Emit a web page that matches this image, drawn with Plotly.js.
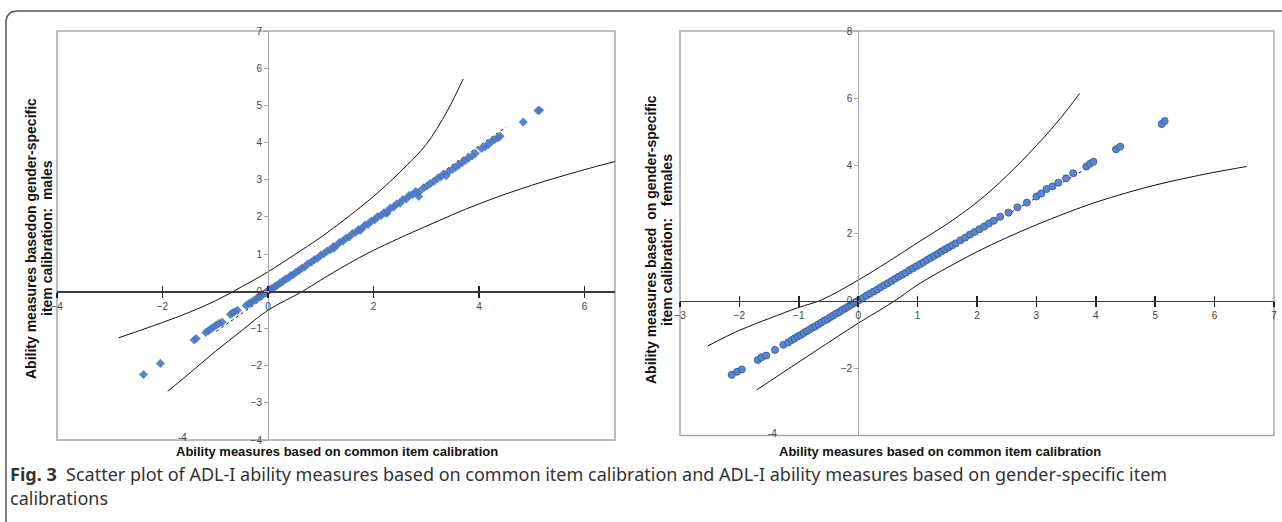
<!DOCTYPE html>
<html>
<head>
<meta charset="utf-8">
<script src="https://cdn.plot.ly/plotly-3.0.1.min.js"></script>
<style>html,body{margin:0;padding:0;background:#fff;}#chart{width:1282px;height:522px;}</style>
</head>
<body>
<div id="chart"></div>
<script>
// ---------- DATA ----------
// Left panel: males
const malesX = [-2.36,-2.04,-1.40,-1.36,-1.18,-1.13,-1.08,-1.03,-0.98,-0.93,-0.87,-0.71,-0.67,-0.63,-0.58,-0.41,-0.36,-0.31,-0.26,-0.21,-0.17,-0.13,-0.09,-0.05,-0.02,
  0.02,0.06,0.10,0.14,0.18,0.23,0.28,0.33,0.38,0.43,0.48,0.53,0.58,0.64,0.70,0.76,0.82,0.88,0.94,1.00,1.06,1.12,1.18,1.24,1.30,1.36,1.42,1.48,1.54,1.60,1.66,1.72,1.78,1.84,1.90,1.96,2.02,2.08,2.14,2.20,2.26,2.32,2.38,2.44,2.50,2.56,2.62,2.68,2.74,2.80,2.86,
  1.25,1.75,2.25,2.86,
  2.95,3.02,3.08,3.15,3.22,3.28,3.33,3.38,3.43,3.50,3.56,3.62,3.68,3.74,3.80,3.87,3.93,4.05,4.12,4.18,4.24,4.30,4.36,4.40,4.84,5.12,5.15];
const malesY = [-2.24,-1.94,-1.31,-1.27,-1.11,-1.06,-1.01,-0.96,-0.91,-0.87,-0.83,-0.62,-0.58,-0.55,-0.51,-0.38,-0.33,-0.29,-0.24,-0.19,-0.16,-0.12,-0.08,-0.04,-0.01,
  0.03,0.07,0.08,0.14,0.16,0.23,0.26,0.33,0.35,0.42,0.45,0.51,0.55,0.62,0.66,0.74,0.78,0.85,0.89,0.97,1.01,1.08,1.12,1.20,1.23,1.32,1.35,1.43,1.46,1.55,1.58,1.66,1.69,1.78,1.80,1.89,1.92,2.01,2.03,2.12,2.14,2.24,2.26,2.35,2.37,2.47,2.48,2.58,2.60,2.68,2.66,
  1.16,1.64,2.09,2.55,
  2.78,2.84,2.90,2.96,3.04,3.08,3.15,3.11,3.22,3.28,3.34,3.40,3.46,3.52,3.58,3.64,3.71,3.84,3.89,3.95,4.03,4.08,4.13,4.17,4.55,4.86,4.87];
const malesUpperX = [-2.83,-2.4,-2.0,-1.5,-1.0,-0.5,0,0.5,1.0,1.5,2.0,2.5,3.0,3.4,3.7];
const malesUpperY = [-1.25,-1.04,-0.84,-0.57,-0.26,0.12,0.52,0.98,1.45,1.98,2.55,3.2,3.95,4.85,5.71];
const malesLowerX = [-1.9,-1.5,-1.0,-0.5,0,0.66,1.0,1.5,2.0,3.0,4.0,5.0,6.0,6.58];
const malesLowerY = [-2.69,-2.22,-1.62,-1.06,-0.51,0,0.3,0.72,1.1,1.75,2.35,2.85,3.27,3.49];
const malesTrendX = [-0.98,4.51];
const malesTrendY = [-1.08,4.41];

// Right panel: females
const femalesX = [-2.13,-2.04,-1.96,-1.69,-1.63,-1.55,-1.40,-1.26,-1.18,-1.12,-1.07,-1.02,-0.97,-0.92,-0.87,-0.82,-0.77,-0.72,-0.67,-0.62,-0.57,-0.52,-0.47,-0.42,-0.37,-0.32,-0.27,-0.22,-0.17,-0.12,-0.07,-0.03,
  0.02,0.08,0.14,0.20,0.26,0.32,0.38,0.44,0.50,0.56,0.62,0.68,0.74,0.80,0.86,0.92,0.98,1.04,1.10,1.16,1.22,1.28,1.34,1.40,1.46,1.52,1.58,1.64,1.72,1.80,1.88,1.96,2.04,2.12,2.20,2.28,2.39,2.53,2.68,2.84,3.00,3.08,3.17,3.27,3.37,3.50,3.62,
  3.84,3.90,3.96,4.34,4.41,5.11,5.16];
const femalesY = [-2.20,-2.11,-2.04,-1.76,-1.68,-1.63,-1.46,-1.31,-1.24,-1.17,-1.12,-1.06,-1.02,-0.96,-0.91,-0.86,-0.80,-0.76,-0.70,-0.65,-0.59,-0.55,-0.49,-0.44,-0.38,-0.34,-0.28,-0.23,-0.18,-0.12,-0.07,-0.03,
  0.02,0.08,0.15,0.21,0.27,0.33,0.40,0.46,0.52,0.58,0.65,0.71,0.77,0.83,0.90,0.96,1.02,1.08,1.14,1.21,1.27,1.33,1.39,1.46,1.52,1.58,1.64,1.70,1.79,1.87,1.96,2.04,2.12,2.20,2.29,2.37,2.49,2.61,2.77,2.91,3.09,3.18,3.31,3.39,3.50,3.63,3.78,
  3.98,4.06,4.12,4.49,4.57,5.24,5.33];
const femalesUpperX = [-2.53,-2.0,-1.5,-1.0,-0.62,0,0.5,1.0,1.5,2.0,2.5,3.0,3.4,3.73];
const femalesUpperY = [-1.34,-0.88,-0.53,-0.2,0.02,0.61,1.15,1.72,2.28,2.92,3.7,4.6,5.4,6.15];
const femalesLowerX = [-1.71,-1.0,-0.5,0,0.62,1.0,1.5,2.0,2.5,3.0,3.5,4.0,4.5,5.0,5.5,6.0,6.54];
const femalesLowerY = [-2.65,-1.82,-1.24,-0.67,0,0.47,0.98,1.45,1.87,2.25,2.6,2.92,3.19,3.43,3.63,3.81,3.98];
const femalesTrendX = [-1.0,3.9];
const femalesTrendY = [-1.05,3.98];

// Tick labels
const leftXTicks = [-4,-2,0,2,4,6];
const leftYTicks = [-4,-3,-2,-1,0,1,2,3,4,5,6,7];
const rightXTicks = [-3,-2,-1,0,1,2,3,4,5,6,7];
const rightYTicks = [-2,0,2,4,6,8];

// Text
const xTitle = 'Ability measures based on common item calibration';
const leftYTitle1 = 'Ability measures basedon gender-specific';
const leftYTitle2 = 'item calibration:\u00a0\u00a0males';
const rightYTitle1 = 'Ability measures based\u00a0 on gender-specific';
const rightYTitle2 = 'item calibration:\u00a0\u00a0\u00a0females';
const captionLine1 = '<b>Fig. 3</b>\u00a0 Scatter plot of ADL-I ability measures based on common item calibration and ADL-I ability measures based on gender-specific item';
const captionLine2 = 'calibrations';

// ---------- LAYOUT ----------
const W = 1282, H = 522;
const px = v => v / W;
const py = v => 1 - v / H;

const LXR = [-4, 6.58], LYR = [-4, 7];
const RXR = [-3, 7], RYR = [-4, 8];
const LXD = [px(57), px(615)], LYD = [py(440), py(31)];
const RXD = [px(680), px(1274)], RYD = [py(435.5), py(31)];
const zeroPos = (dom, r) => dom[0] + (dom[1] - dom[0]) * (0 - r[0]) / (r[1] - r[0]);

const tickFont = {family: 'Liberation Sans, Arial, sans-serif', size: 10, color: '#444'};
const blue = '#4a78c6';

const traces = [
  {x: malesUpperX, y: malesUpperY, mode: 'lines', line: {color: '#111', width: 1, shape: 'spline'}, xaxis: 'x', yaxis: 'y', hoverinfo: 'skip'},
  {x: malesLowerX, y: malesLowerY, mode: 'lines', line: {color: '#111', width: 1, shape: 'spline'}, xaxis: 'x', yaxis: 'y', hoverinfo: 'skip'},
  {x: malesTrendX, y: malesTrendY, mode: 'lines', line: {color: '#111', width: 1, dash: 'dot'}, xaxis: 'x', yaxis: 'y', hoverinfo: 'skip'},
  {x: malesX, y: malesY, mode: 'markers', marker: {symbol: 'diamond', size: 7, color: blue, opacity: 0.9}, xaxis: 'x', yaxis: 'y'},
  {x: femalesUpperX, y: femalesUpperY, mode: 'lines', line: {color: '#111', width: 1, shape: 'spline'}, xaxis: 'x2', yaxis: 'y2', hoverinfo: 'skip'},
  {x: femalesLowerX, y: femalesLowerY, mode: 'lines', line: {color: '#111', width: 1, shape: 'spline'}, xaxis: 'x2', yaxis: 'y2', hoverinfo: 'skip'},
  {x: femalesTrendX, y: femalesTrendY, mode: 'lines', line: {color: '#111', width: 1, dash: 'dot'}, xaxis: 'x2', yaxis: 'y2', hoverinfo: 'skip'},
  {x: femalesX, y: femalesY, mode: 'markers', marker: {symbol: 'circle', size: 7, color: '#5a86cf', line: {color: '#3d63a6', width: 1}}, xaxis: 'x2', yaxis: 'y2'},
  // carriers for the inward half of the crossing tick marks
  {x: [null], y: [null], xaxis: 'x3', yaxis: 'y', showlegend: false, hoverinfo: 'skip'},
  {x: [null], y: [null], xaxis: 'x4', yaxis: 'y2', showlegend: false, hoverinfo: 'skip'}
];

const xBase = {showgrid: false, zeroline: false, showline: true, linecolor: '#3a3a3a', linewidth: 1.5,
  ticks: 'outside', ticklen: 5, tickwidth: 1.5, tickcolor: '#222', tickfont: tickFont, anchor: 'free', fixedrange: true};
const xInner = {showgrid: false, zeroline: false, showline: false, ticks: 'inside', ticklen: 5, tickwidth: 1.5,
  tickcolor: '#222', showticklabels: false, anchor: 'free', fixedrange: true};
const yBase = {showgrid: false, zeroline: false, showline: true, linecolor: '#a6a6a6', linewidth: 1,
  ticks: 'outside', ticklen: 4, tickwidth: 1, tickcolor: '#a6a6a6', tickfont: tickFont, anchor: 'free', fixedrange: true};

const titleFont = {family: 'Liberation Sans, Arial, sans-serif', size: 13, color: '#111'};
const yTitleFont = {family: 'Liberation Sans, Arial, sans-serif', size: 14, color: '#111'};
const capFont = {family: 'Noto Sans, sans-serif', size: 18, color: '#333'};

const layout = {
  width: W, height: H,
  margin: {l: 0, r: 0, t: 0, b: 0},
  paper_bgcolor: '#fff', plot_bgcolor: 'rgba(0,0,0,0)',
  showlegend: false,
  xaxis: Object.assign({}, xBase, {domain: LXD, range: LXR, tickvals: leftXTicks, position: zeroPos(LYD, LYR)}),
  yaxis: Object.assign({}, yBase, {domain: LYD, range: LYR, tickvals: leftYTicks, position: zeroPos(LXD, LXR)}),
  xaxis2: Object.assign({}, xBase, {domain: RXD, range: RXR, tickvals: rightXTicks, position: zeroPos(RYD, RYR)}),
  yaxis2: Object.assign({}, yBase, {domain: RYD, range: RYR, tickvals: rightYTicks, position: zeroPos(RXD, RXR)}),
  xaxis3: Object.assign({}, xInner, {overlaying: 'x', range: LXR, tickvals: leftXTicks, position: zeroPos(LYD, LYR)}),
  xaxis4: Object.assign({}, xInner, {overlaying: 'x2', range: RXR, tickvals: rightXTicks, position: zeroPos(RYD, RYR)}),
  shapes: [
    {type: 'rect', xref: 'x domain', yref: 'y domain', x0: 0, x1: 1, y0: 0, y1: 1, line: {color: '#a8a8a8', width: 1.5}, layer: 'below'},
    {type: 'rect', xref: 'x2 domain', yref: 'y2 domain', x0: 0, x1: 1, y0: 0, y1: 1, line: {color: '#a8a8a8', width: 1.5}, layer: 'below'},
    {type: 'path', xref: 'paper', yref: 'paper',
      path: `M ${px(6)} ${py(540)} L ${px(6)} ${py(23)} Q ${px(6)} ${py(11)} ${px(18)} ${py(11)} L ${px(1300)} ${py(11)}`,
      line: {color: '#555', width: 1.5}}
  ],
  annotations: [
    {text: '<b>' + xTitle + '</b>', xref: 'paper', yref: 'paper', x: px(337), y: py(451), xanchor: 'center', yanchor: 'middle', showarrow: false, font: titleFont},
    {text: '<b>' + xTitle + '</b>', xref: 'paper', yref: 'paper', x: px(940), y: py(451), xanchor: 'center', yanchor: 'middle', showarrow: false, font: titleFont},
    {text: '<b>' + leftYTitle1 + '</b>', xref: 'paper', yref: 'paper', x: px(31), y: py(239), textangle: -90, xanchor: 'center', yanchor: 'middle', showarrow: false, font: yTitleFont},
    {text: '<b>' + leftYTitle2 + '</b>', xref: 'paper', yref: 'paper', x: px(47), y: py(238), textangle: -90, xanchor: 'center', yanchor: 'middle', showarrow: false, font: yTitleFont},
    {text: '<b>' + rightYTitle1 + '</b>', xref: 'paper', yref: 'paper', x: px(651), y: py(240), textangle: -90, xanchor: 'center', yanchor: 'middle', showarrow: false, font: yTitleFont},
    {text: '<b>' + rightYTitle2 + '</b>', xref: 'paper', yref: 'paper', x: px(667), y: py(240), textangle: -90, xanchor: 'center', yanchor: 'middle', showarrow: false, font: yTitleFont},
    {text: '-4', xref: 'x', yref: 'y', x: -1.62, y: -4, yshift: 3, xanchor: 'center', yanchor: 'middle', showarrow: false, font: tickFont},
    {text: '-4', xref: 'x2', yref: 'y2', x: -1.44, y: -4, yshift: 2, xanchor: 'center', yanchor: 'middle', showarrow: false, font: tickFont},
    {text: captionLine1, xref: 'paper', yref: 'paper', x: px(8), y: py(474), xanchor: 'left', yanchor: 'middle', showarrow: false, font: capFont},
    {text: captionLine2, xref: 'paper', yref: 'paper', x: px(8), y: py(498), xanchor: 'left', yanchor: 'middle', showarrow: false, font: capFont}
  ]
};

Plotly.newPlot('chart', traces, layout, {staticPlot: true, displayModeBar: false});
</script>
</body>
</html>
